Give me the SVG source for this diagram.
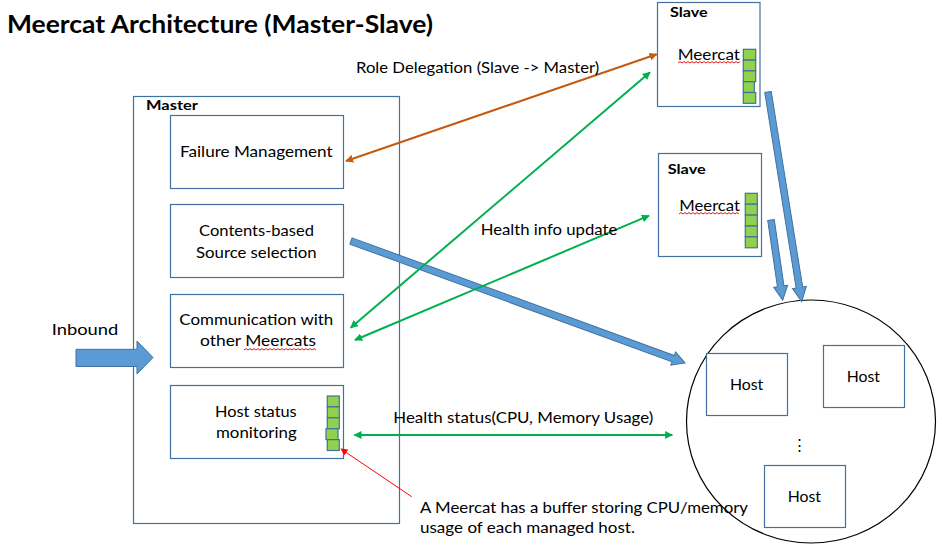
<svg xmlns="http://www.w3.org/2000/svg" width="942" height="547" viewBox="0 0 942 547">
<defs>
<style>
.box{fill:#fff;stroke:#41719C;stroke-width:1.2}
.cell{fill:#92D050;stroke:#41719C;stroke-width:1.2}
.t{font-family:Lato,"Open Sans","Liberation Sans",sans-serif;font-size:15px;fill:#000}
.b{font-family:Lato,"Open Sans","Liberation Sans",sans-serif;font-weight:bold;fill:#000}
.blk{fill:#5B9BD5;stroke:#41719C;stroke-width:1}
.g{stroke:#00B050;stroke-width:2;fill:none}
.o{stroke:#C55A11;stroke-width:2;fill:none}
.sq{stroke:#E00000;stroke-width:0.9;fill:none}
</style>
<marker id="ag" viewBox="0 0 10 10" refX="9" refY="5" markerWidth="4" markerHeight="4" orient="auto-start-reverse"><path d="M0,0 L10,5 L0,10 z" fill="#00B050"/></marker>
<marker id="ao" viewBox="0 0 10 10" refX="9" refY="5" markerWidth="4" markerHeight="4" orient="auto-start-reverse"><path d="M0,0 L10,5 L0,10 z" fill="#C55A11"/></marker>
<marker id="ar" viewBox="0 0 10 10" refX="9" refY="5" markerWidth="7" markerHeight="7" orient="auto"><path d="M0,0 L10,5 L0,10 z" fill="#FF0000"/></marker>
</defs>
<rect width="942" height="547" fill="#fff"/>

<text class="b" x="7" y="33" font-size="24" textLength="426" lengthAdjust="spacingAndGlyphs">Meercat Architecture (Master-Slave)</text>

<g id="master">
<rect class="box" x="133.5" y="96.5" width="266" height="427"/>
<text class="b" x="146" y="109.5" font-size="13" textLength="52" lengthAdjust="spacingAndGlyphs">Master</text>
</g>
<g id="failure">
<rect class="box" x="170.5" y="115.5" width="173" height="73"/>
<text class="t" x="180" y="156.7" textLength="152.7" lengthAdjust="spacingAndGlyphs">Failure Management</text>
</g>
<g id="contents">
<rect class="box" x="170.5" y="204.5" width="173" height="73"/>
<text class="t" x="199" y="236" textLength="115" lengthAdjust="spacingAndGlyphs">Contents-based</text>
<text class="t" x="196" y="257.7" textLength="120.7" lengthAdjust="spacingAndGlyphs">Source selection</text>
</g>
<g id="comm">
<rect class="box" x="170.5" y="294.5" width="173" height="73"/>
<text class="t" x="179.3" y="325" textLength="154" lengthAdjust="spacingAndGlyphs">Communication with</text>
<text class="t" x="200" y="345.7" textLength="116" lengthAdjust="spacingAndGlyphs">other Meercats</text>
<path class="sq" d="M244,350 l2,-1.4 l2,1.4 l2,-1.4 l2,1.4 l2,-1.4 l2,1.4 l2,-1.4 l2,1.4 l2,-1.4 l2,1.4 l2,-1.4 l2,1.4 l2,-1.4 l2,1.4 l2,-1.4 l2,1.4 l2,-1.4 l2,1.4 l2,-1.4 l2,1.4 l2,-1.4 l2,1.4 l2,-1.4 l2,1.4 l2,-1.4 l2,1.4 l2,-1.4 l2,1.4 l2,-1.4 l2,1.4 l2,-1.4 l2,1.4 l2,-1.4 l2,1.4 l2,-1.4 l2,1.4"/>
</g>
<g id="hoststatus">
<rect class="box" x="170.5" y="385.5" width="173" height="73"/>
<text class="t" x="215" y="416.7" textLength="81.7" lengthAdjust="spacingAndGlyphs">Host status</text>
<text class="t" x="216" y="438.3" textLength="80.7" lengthAdjust="spacingAndGlyphs">monitoring</text>
<rect class="cell" x="327.3" y="396" width="12" height="10.9"/>
<rect class="cell" x="327.3" y="406.9" width="12" height="10.9"/>
<rect class="cell" x="327.3" y="417.8" width="12" height="10.9"/>
<rect class="cell" x="326" y="428.7" width="12" height="10.9"/>
<rect class="cell" x="327.3" y="439.6" width="12" height="10.9"/>
</g>

<g id="slave1">
<rect class="box" x="657.5" y="2.5" width="102.5" height="104"/>
<text class="b" x="670" y="17.3" font-size="13" textLength="37.7" lengthAdjust="spacingAndGlyphs">Slave</text>
<text class="t" x="677.7" y="60" textLength="62.3" lengthAdjust="spacingAndGlyphs">Meercat</text>
<path class="sq" d="M678,63 l2,-1.4 l2,1.4 l2,-1.4 l2,1.4 l2,-1.4 l2,1.4 l2,-1.4 l2,1.4 l2,-1.4 l2,1.4 l2,-1.4 l2,1.4 l2,-1.4 l2,1.4 l2,-1.4 l2,1.4 l2,-1.4 l2,1.4 l2,-1.4 l2,1.4 l2,-1.4 l2,1.4 l2,-1.4 l2,1.4 l2,-1.4 l2,1.4 l2,-1.4 l2,1.4 l2,-1.4 l2,1.4 l2,-1.4"/>
<rect class="cell" x="743.3" y="49.3" width="12.4" height="10.8"/>
<rect class="cell" x="743.3" y="60.1" width="12.4" height="10.8"/>
<rect class="cell" x="743.3" y="70.9" width="12.4" height="10.8"/>
<rect class="cell" x="743.3" y="81.7" width="11" height="10.8"/>
<rect class="cell" x="743.3" y="92.5" width="12.4" height="10.8"/>
</g>
<g id="slave2">
<rect class="box" x="658.5" y="153.5" width="103" height="103"/>
<text class="b" x="667.7" y="174.3" font-size="13" textLength="38" lengthAdjust="spacingAndGlyphs">Slave</text>
<text class="t" x="679.3" y="210.5" textLength="60.7" lengthAdjust="spacingAndGlyphs">Meercat</text>
<path class="sq" d="M679,214 l2,-1.4 l2,1.4 l2,-1.4 l2,1.4 l2,-1.4 l2,1.4 l2,-1.4 l2,1.4 l2,-1.4 l2,1.4 l2,-1.4 l2,1.4 l2,-1.4 l2,1.4 l2,-1.4 l2,1.4 l2,-1.4 l2,1.4 l2,-1.4 l2,1.4 l2,-1.4 l2,1.4 l2,-1.4 l2,1.4 l2,-1.4 l2,1.4 l2,-1.4 l2,1.4 l2,-1.4 l2,1.4"/>
<rect class="cell" x="745.3" y="193.3" width="12" height="10.9"/>
<rect class="cell" x="745.3" y="204.2" width="12" height="10.9"/>
<rect class="cell" x="745.3" y="215.1" width="12" height="10.9"/>
<rect class="cell" x="745.3" y="226" width="12" height="10.9"/>
<rect class="cell" x="745.3" y="236.9" width="12" height="10.9"/>
</g>

<g id="hostgroup">
<ellipse cx="811" cy="421.5" rx="124.5" ry="121.5" fill="none" stroke="#000" stroke-width="1.2"/>
<text class="t" x="799" y="450" font-size="12" text-anchor="middle">⋮</text>
</g>
<g id="host1">
<rect class="box" x="706.5" y="353.5" width="81" height="62"/>
<text class="t" x="730" y="390" textLength="33.3" lengthAdjust="spacingAndGlyphs">Host</text>
</g>
<g id="host2">
<rect class="box" x="823.5" y="345.5" width="81" height="62"/>
<text class="t" x="846.7" y="382" textLength="33.3" lengthAdjust="spacingAndGlyphs">Host</text>
</g>
<g id="host3">
<rect class="box" x="764.5" y="465.5" width="81" height="62"/>
<text class="t" x="787.7" y="502" textLength="33.3" lengthAdjust="spacingAndGlyphs">Host</text>
</g>

<g id="connectors">
<path class="blk" d="M76,349.3 L137,349.3 L137,341 L153,357.5 L137,374 L137,366.5 L76,366.5 z"/>
<path class="blk" transform="translate(351,241) rotate(20.06)" d="M0,-3.3 L343,-3.3 L343,-7 L355.6,0 L343,7 L343,3.3 L0,3.3 z"/>
<path class="blk" transform="translate(768,92) rotate(80.87)" d="M0,-3.3 L198,-3.3 L198,-7 L212.4,0 L198,7 L198,3.3 L0,3.3 z"/>
<path class="blk" transform="translate(771,220) rotate(81.68)" d="M0,-3.3 L67,-3.3 L67,-7 L80.9,0 L67,7 L67,3.3 L0,3.3 z"/>

<line class="o" x1="656.7" y1="54.3" x2="346" y2="161" marker-start="url(#ao)" marker-end="url(#ao)"/>
<line class="g" x1="650" y1="72.3" x2="350.7" y2="327.7" marker-start="url(#ag)" marker-end="url(#ag)"/>
<line class="g" x1="649" y1="215.7" x2="355" y2="340" marker-start="url(#ag)" marker-end="url(#ag)"/>
<line class="g" x1="354.3" y1="435" x2="672.3" y2="435" marker-start="url(#ag)" marker-end="url(#ag)"/>
<line x1="411.7" y1="496.7" x2="341" y2="449" stroke="#FF0000" stroke-width="1" marker-end="url(#ar)"/>
</g>

<text class="t" x="356" y="73.3" textLength="243.3" lengthAdjust="spacingAndGlyphs">Role Delegation (Slave -&gt; Master)</text>
<text class="t" x="480.7" y="235" textLength="136.6" lengthAdjust="spacingAndGlyphs">Health info update</text>
<text class="t" x="393.3" y="423.3" textLength="260" lengthAdjust="spacingAndGlyphs">Health status(CPU, Memory Usage)</text>
<text class="t" x="51.7" y="335" font-size="17" textLength="66.6" lengthAdjust="spacingAndGlyphs">Inbound</text>
<text class="t" x="420" y="512.7" textLength="328" lengthAdjust="spacingAndGlyphs">A Meercat has a buffer storing CPU/memory</text>
<text class="t" x="420" y="533" textLength="215" lengthAdjust="spacingAndGlyphs">usage of each managed host.</text>
</svg>
